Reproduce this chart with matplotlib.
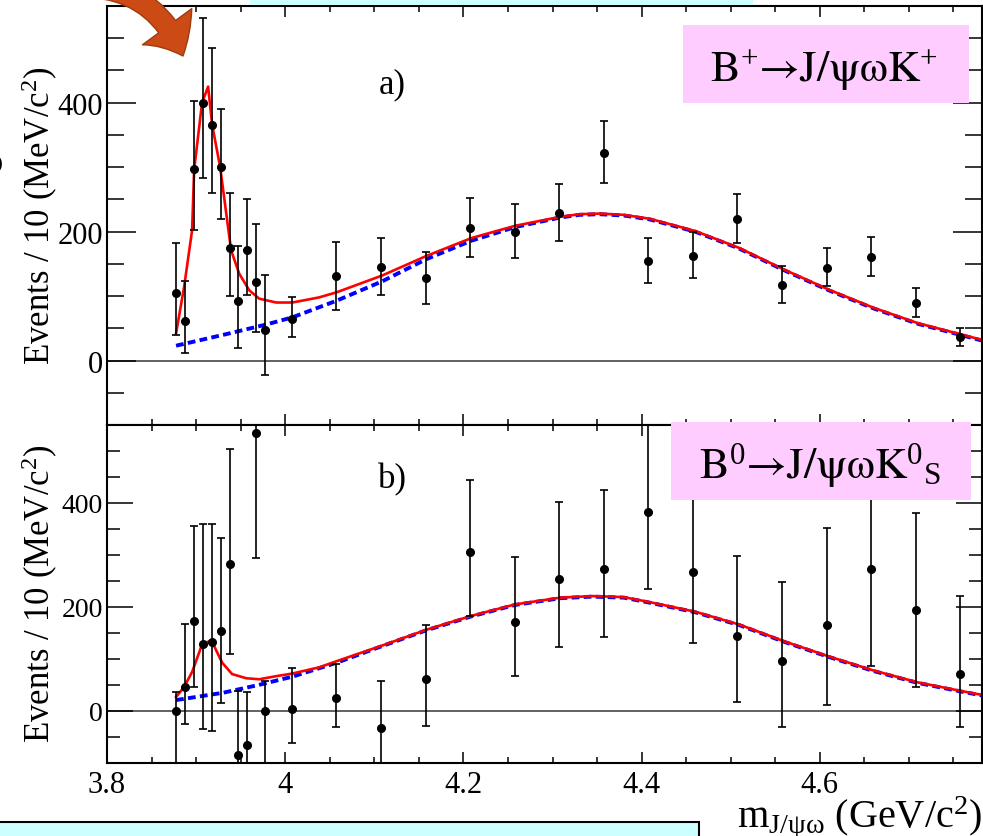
import matplotlib
matplotlib.use('Agg')
import matplotlib.pyplot as plt
from matplotlib.ticker import MultipleLocator, FuncFormatter
from matplotlib.patches import Rectangle, FancyArrowPatch

plt.rcParams['font.family'] = ['Liberation Serif', 'DejaVu Serif']
plt.rcParams['mathtext.fontset'] = 'custom'
plt.rcParams['mathtext.rm'] = 'Liberation Serif'
plt.rcParams['mathtext.it'] = 'Liberation Serif:italic'
plt.rcParams['mathtext.bf'] = 'Liberation Serif:bold'

# bin centres (GeV/c^2), same binning in both panels
mass = [3.8775, 3.8875, 3.8975, 3.9075, 3.9175, 3.9275, 3.9375, 3.9475, 3.9575, 3.9675,
        3.9775, 4.0075, 4.0575, 4.1075, 4.1575, 4.2075, 4.2575, 4.3075, 4.3575, 4.4075,
        4.4575, 4.5075, 4.5575, 4.6075, 4.6575, 4.7075, 4.7575]

# a) B+ -> J/psi omega K+
events_a = [104, 62, 297, 400, 366, 300, 174, 92, 172, 122, 48, 65, 131, 145, 128, 205,
            200, 229, 322, 154, 162, 219, 117, 143, 160, 89, 37]
err_lo_a = [64, 50, 95, 117, 106, 81, 74, 72, 71, 77, 70, 29, 52, 44, 41, 45, 41, 44, 46,
            34, 34, 37, 28, 28, 29, 22, 14]
err_hi_a = [79, 62, 106, 132, 119, 90, 86, 85, 78, 90, 84, 33, 53, 45, 40, 47, 43, 45, 49,
            36, 37, 39, 29, 31, 31, 23, 14]

# b) B0 -> J/psi omega K0s
events_b = [0, 46, 174, 128, 132, 153, 283, -84, -65, 534, 0, 4, 25, -33, 61, 306, 172, 253,
            274, 383, 268, 145, 96, 165, 273, 195, 72]
err_lo_b = [150, 71, 128, 162, 170, 138, 174, 100, 100, 239, 150, 66, 56, 100, 90, 124, 105,
            130, 132, 148, 138, 128, 127, 154, 186, 149, 103]
err_hi_b = [36, 122, 181, 232, 228, 180, 220, 122, 101, 240, 57, 78, 65, 90, 105, 138, 125,
            149, 151, 180, 140, 153, 153, 187, 186, 186, 150]

# fit curves
fit_x_a = [3.8775, 3.8865, 3.8955, 3.8978, 3.9067, 3.9135, 3.918, 3.927, 3.9348, 3.9393,
           3.9483, 3.9596, 3.9708, 3.9899, 4.0079, 4.027, 4.0382, 4.058, 4.109, 4.158, 4.209,
           4.258, 4.309, 4.33, 4.353, 4.38, 4.409, 4.46, 4.509, 4.56, 4.61, 4.66, 4.71, 4.76,
           4.782]
fit_a = [42, 114, 202, 296, 400, 425, 366, 300, 218, 171, 135, 109, 96, 90, 90, 95, 98, 106,
         132, 162, 190, 209, 223, 227, 228, 226, 220, 201, 175, 141, 110, 82, 58, 40, 32]
bkg_x_a = [3.8775, 3.934, 3.979, 4.008, 4.058, 4.109, 4.158, 4.209, 4.258, 4.309, 4.33, 4.353,
           4.38, 4.409, 4.46, 4.509, 4.56, 4.61, 4.66, 4.71, 4.76, 4.782]
bkg_a = [23, 41, 56, 67, 93, 123, 157, 186, 207, 222, 226, 227, 225, 219, 200, 174, 140, 109,
         81, 57, 39, 31]

fit_x_b = [3.8775, 3.8865, 3.8955, 3.9067, 3.9146, 3.9202, 3.9292, 3.9404, 3.9562, 3.9708,
           3.9899, 4.0079, 4.0382, 4.058, 4.109, 4.158, 4.209, 4.258, 4.309, 4.345, 4.38, 4.41,
           4.46, 4.51, 4.56, 4.61, 4.66, 4.71, 4.76, 4.782]
fit_b = [27, 46, 75, 128, 134, 125, 93, 71, 63, 61, 67, 72, 84, 96, 126, 156, 183, 205, 218,
         221, 219, 209, 191, 166, 134, 105, 78, 55, 38, 31]
bkg_x_b = [3.8775, 3.93, 3.97, 4.008, 4.058, 4.109, 4.158, 4.209, 4.258, 4.309, 4.345, 4.38,
           4.41, 4.46, 4.51, 4.56, 4.61, 4.66, 4.71, 4.76, 4.782]
bkg_b = [21, 35, 50, 66, 93, 125, 155, 182, 204, 217, 220, 218, 208, 190, 165, 133, 104, 77,
         54, 37, 30]

W, H = 983, 837
fig = plt.figure(figsize=(W / 100, H / 100), dpi=100)
fig.patch.set_facecolor('white')

ax1 = fig.add_axes([107 / W, 1 - 426 / H, 875 / W, 419 / H])
ax2 = fig.add_axes([107 / W, 1 - 764 / H, 875 / W, 338 / H])

panels = [
    (ax1, events_a, err_lo_a, err_hi_a, fit_x_a, fit_a, bkg_x_a, bkg_a, 22, 21, 12),
    (ax2, events_b, err_lo_b, err_hi_b, fit_x_b, fit_b, bkg_x_b, bkg_b, 20, 19, 9.5),
]
for ax, ev, lo, hi, fx, fy, bx, by, ylab_size, ymaj, ymin in panels:
    ax.set_xlim(3.8, 4.782)
    ax.set_ylim(-100, 550)
    ax.axhline(0, color='#555555', lw=1.3, zorder=1)
    ax.plot(bx, by, color='blue', lw=2.8, linestyle=(0, (2, 1.1)), zorder=2)
    ax.plot(fx, fy, color='red', lw=1.9, zorder=2.5)
    ax.errorbar(mass, ev, yerr=[lo, hi], fmt='o', color='black', ms=5.5,
                elinewidth=1.2, capsize=3, capthick=1.2, zorder=3)
    ax.xaxis.set_major_locator(MultipleLocator(0.2))
    ax.xaxis.set_minor_locator(MultipleLocator(0.05))
    ax.yaxis.set_major_locator(MultipleLocator(200))
    ax.yaxis.set_minor_locator(MultipleLocator(50))
    ax.xaxis.set_major_formatter(FuncFormatter(lambda v, p: '%g' % round(v, 2)))
    ax.tick_params(which='both', direction='in', top=True, right=True, width=1.1)
    ax.tick_params(axis='y', which='major', length=ymaj, labelsize=ylab_size, pad=3)
    ax.tick_params(axis='y', which='minor', length=ymin)
    ax.tick_params(axis='x', which='major', length=8, labelsize=22, pad=5)
    ax.tick_params(axis='x', which='minor', length=4.5)
    for s in ax.spines.values():
        s.set_linewidth(1.5)

ax1.tick_params(axis='x', labelbottom=False)

ylabel = 'Events / 10 (MeV/c$^{2}$)'
fig.text(40 / W, 1 - 216 / H, ylabel, rotation=90, ha='center', va='center', fontsize=25)
fig.text(40 / W, 1 - 594 / H, ylabel, rotation=90, ha='center', va='center', fontsize=25)
fig.text(-7 / W, 1 - 167 / H, 'O', ha='center', va='center', fontsize=20)

fig.text(392 / W, 1 - 85 / H, 'a)', ha='center', va='center', fontsize=25)
fig.text(392 / W, 1 - 480 / H, 'b)', ha='center', va='center', fontsize=25)

fig.text(982 / W, 1 - 827 / H, 'm$_{\\mathrm{J/ψω}}$ (GeV/c$^{2}$)',
         ha='right', va='baseline', fontsize=29)

# pink decay-channel boxes
stix = ['STIXGeneral', 'DejaVu Serif']
fig.add_artist(Rectangle((683 / W, 1 - 104 / H), 286 / W, 78 / H, transform=fig.transFigure,
                         facecolor='#FFCCFF', edgecolor='none', zorder=5))
fig.text(824 / W, 1 - 82 / H, 'B$^{+}$→J/ψωK$^{+}$', ha='center', va='baseline',
         fontsize=32, family=stix, zorder=6)
fig.add_artist(Rectangle((671 / W, 1 - 501 / H), 300 / W, 78 / H, transform=fig.transFigure,
                         facecolor='#FFCCFF', edgecolor='none', zorder=5))
fig.text(820 / W, 1 - 478 / H, 'B$^{0}$→J/ψωK$^{0}$$_{\\mathrm{S}}$', ha='center',
         va='baseline', fontsize=32, family=stix, zorder=6)

# slide boxes cut off at the edges
fig.add_artist(Rectangle((250 / W, 1 - 6 / H), 503 / W, 20 / H, transform=fig.transFigure,
                         facecolor='#CCFFFF', edgecolor='none', zorder=5))
fig.add_artist(Rectangle((-10 / W, -20 / H), 709 / W, 34 / H, transform=fig.transFigure,
                         facecolor='#CCFFFF', edgecolor='black', lw=1.5, zorder=5))

# arrow pointing at the peak
arrow = FancyArrowPatch((78 / W, 1 + 12 / H), (183 / W, 1 - 57 / H), transform=fig.transFigure,
                        arrowstyle='simple,head_width=44,head_length=24,tail_width=15',
                        connectionstyle='arc3,rad=-0.35', shrinkA=0, shrinkB=0,
                        facecolor='#CC4A14', edgecolor='#A03A10', lw=1, zorder=6)
fig.add_artist(arrow)

fig.savefig('out.png', dpi=100)
